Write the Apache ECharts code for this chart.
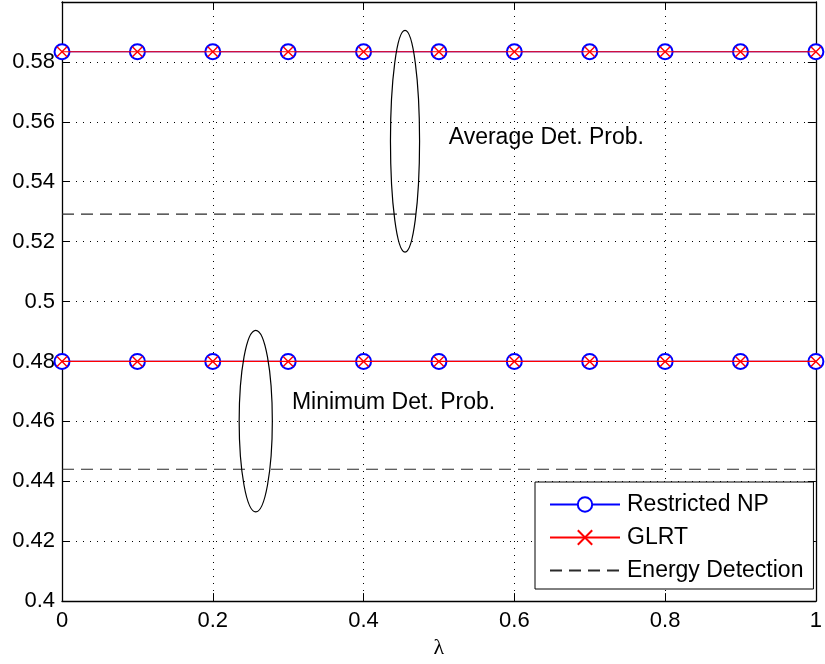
<!DOCTYPE html>
<html>
<head>
<meta charset="utf-8">
<script src="https://cdn.jsdelivr.net/npm/echarts@6/dist/echarts.min.js"></script>
<style>
  html, body { margin: 0; padding: 0; background: #fff; }
  #chart { width: 825px; height: 664px; }
</style>
</head>
<body>
<div id="chart"></div>
<script>
// λ sample points
const lambda = [0, 0.1, 0.2, 0.3, 0.4, 0.5, 0.6, 0.7, 0.8, 0.9, 1];

// Detection probabilities (average / minimum) per detector
const restrictedNpAvg = [0.5834, 0.5834, 0.5834, 0.5834, 0.5834, 0.5834, 0.5834, 0.5834, 0.5834, 0.5834, 0.5834];
const restrictedNpMin = [0.4800, 0.4800, 0.4800, 0.4800, 0.4800, 0.4800, 0.4800, 0.4800, 0.4800, 0.4800, 0.4800];
const glrtAvg = [0.5834, 0.5834, 0.5834, 0.5834, 0.5834, 0.5834, 0.5834, 0.5834, 0.5834, 0.5834, 0.5834];
const glrtMin = [0.4800, 0.4800, 0.4800, 0.4800, 0.4800, 0.4800, 0.4800, 0.4800, 0.4800, 0.4800, 0.4800];
const energyAvg = [0.5292, 0.5292, 0.5292, 0.5292, 0.5292, 0.5292, 0.5292, 0.5292, 0.5292, 0.5292, 0.5292];
const energyMin = [0.4440, 0.4440, 0.4440, 0.4440, 0.4440, 0.4440, 0.4440, 0.4440, 0.4440, 0.4440, 0.4440];

// Tick labels
const xTickLabels = ['0', '0.2', '0.4', '0.6', '0.8', '1'];
const yTickLabels = ['0.4', '0.42', '0.44', '0.46', '0.48', '0.5', '0.52', '0.54', '0.56', '0.58', ''];

// Group annotations: ellipse [centre λ, centre P, half-width, half-height] and caption text
const groupEllipses = [
  [0.455, 0.5535, 0.0193, 0.0370],
  [0.257, 0.4601, 0.0220, 0.0303]
];
const groupCaptions = [
  { x: 0.513, y: 0.5547, text: 'Average Det. Prob.' },
  { x: 0.305, y: 0.4663, text: 'Minimum Det. Prob.' }
];

const FONT = '"Liberation Sans", Arial, Helvetica, sans-serif';

// Both curves of one detector in a single series, split by a gap point
const twoCurves = (upper, lower) =>
  lambda.map((x, i) => [x, upper[i]])
    .concat([['-', '-']])
    .concat(lambda.map((x, i) => [x, lower[i]]));

const crossSymbol = 'path://M0,0L10,10M0,10L10,0';

const gridSplit = { show: true, lineStyle: { color: '#000', width: 1, type: [1, 6] } };
const boxLine = { show: true, onZero: false, lineStyle: { color: '#000', width: 1.3 } };
const innerTick = { show: true, inside: true, length: 8, lineStyle: { color: '#000' } };

const option = {
  animation: false,
  backgroundColor: '#fff',
  grid: { left: 62, right: 2, top: 2, bottom: 62, containLabel: false },
  xAxis: [
    {
      type: 'value', min: 0, max: 1, interval: 0.2,
      name: 'λ', nameLocation: 'middle', nameGap: 34,
      nameTextStyle: { fontFamily: '"Liberation Serif", "DejaVu Serif", serif', fontSize: 22, color: '#000' },
      axisLine: boxLine, axisTick: innerTick,
      axisLabel: {
        fontFamily: FONT, fontSize: 22, color: '#000', margin: 9,
        formatter: (v) => xTickLabels[Math.round(v / 0.2)]
      },
      splitLine: gridSplit
    },
    {
      type: 'value', min: 0, max: 1, interval: 0.2, position: 'top',
      axisLine: boxLine, axisTick: innerTick,
      axisLabel: { show: false }, splitLine: { show: false }
    }
  ],
  yAxis: [
    {
      type: 'value', min: 0.4, max: 0.6, interval: 0.02,
      axisLine: boxLine, axisTick: innerTick,
      axisLabel: {
        fontFamily: FONT, fontSize: 22, color: '#000', margin: 7,
        formatter: (v) => yTickLabels[Math.round((v - 0.4) / 0.02)]
      },
      splitLine: gridSplit
    },
    {
      type: 'value', min: 0.4, max: 0.6, interval: 0.02, position: 'right',
      axisLine: boxLine, axisTick: innerTick,
      axisLabel: { show: false }, splitLine: { show: false }
    }
  ],
  legend: {
    data: [
      { name: 'Restricted NP' },
      { name: 'GLRT' },
      { name: 'Energy Detection', itemStyle: { opacity: 0 } }
    ],
    orient: 'vertical',
    left: 535, top: 482,
    padding: [11, 10, 7, 14],
    itemWidth: 70, itemHeight: 18, itemGap: 10,
    backgroundColor: '#fff',
    borderColor: '#000', borderWidth: 1, borderRadius: 0,
    textStyle: { fontFamily: FONT, fontSize: 23, color: '#000', padding: [0, 0, 0, 2] },
    selectedMode: false
  },
  series: [
    {
      name: 'Restricted NP', type: 'line', data: twoCurves(restrictedNpAvg, restrictedNpMin),
      connectNulls: false,
      lineStyle: { color: '#0000ff', width: 1.2 },
      symbol: 'emptyCircle', symbolSize: 15,
      itemStyle: { color: '#0000ff', borderColor: '#0000ff', borderWidth: 1.3 },
      z: 3
    },
    {
      name: 'GLRT', type: 'line', data: twoCurves(glrtAvg, glrtMin),
      connectNulls: false,
      lineStyle: { color: '#ff0000', width: 1.2 },
      symbol: crossSymbol, symbolSize: 10,
      itemStyle: { color: '#ff0000', borderColor: '#ff0000', borderWidth: 1.4 },
      z: 4
    },
    {
      name: 'Energy Detection', type: 'line', data: twoCurves(energyAvg, energyMin),
      connectNulls: false,
      lineStyle: { color: '#2a2a2a', width: 1.1, type: [12, 7] },
      itemStyle: { color: '#2a2a2a' },
      symbol: 'none',
      z: 3
    },
    {
      type: 'custom', name: 'groups', data: groupEllipses, z: 5,
      renderItem: (params, api) => {
        const c = api.coord([api.value(0), api.value(1)]);
        const s = api.size([api.value(2), api.value(3)]);
        return {
          type: 'ellipse',
          shape: { cx: c[0], cy: c[1], rx: s[0], ry: s[1] },
          style: { fill: 'none', stroke: '#000', lineWidth: 1.2 }
        };
      }
    },
    {
      type: 'custom', name: 'captions',
      data: groupCaptions.map((g) => [g.x, g.y]), z: 5,
      renderItem: (params, api) => {
        const p = api.coord([api.value(0), api.value(1)]);
        return {
          type: 'text', x: p[0], y: p[1],
          style: {
            text: groupCaptions[params.dataIndex].text,
            fontFamily: FONT, fontSize: 23, fill: '#000',
            align: 'left', verticalAlign: 'middle'
          }
        };
      }
    }
  ]
};

const chart = echarts.init(document.getElementById('chart'), null, { renderer: 'canvas' });
chart.setOption(option);
</script>
</body>
</html>
